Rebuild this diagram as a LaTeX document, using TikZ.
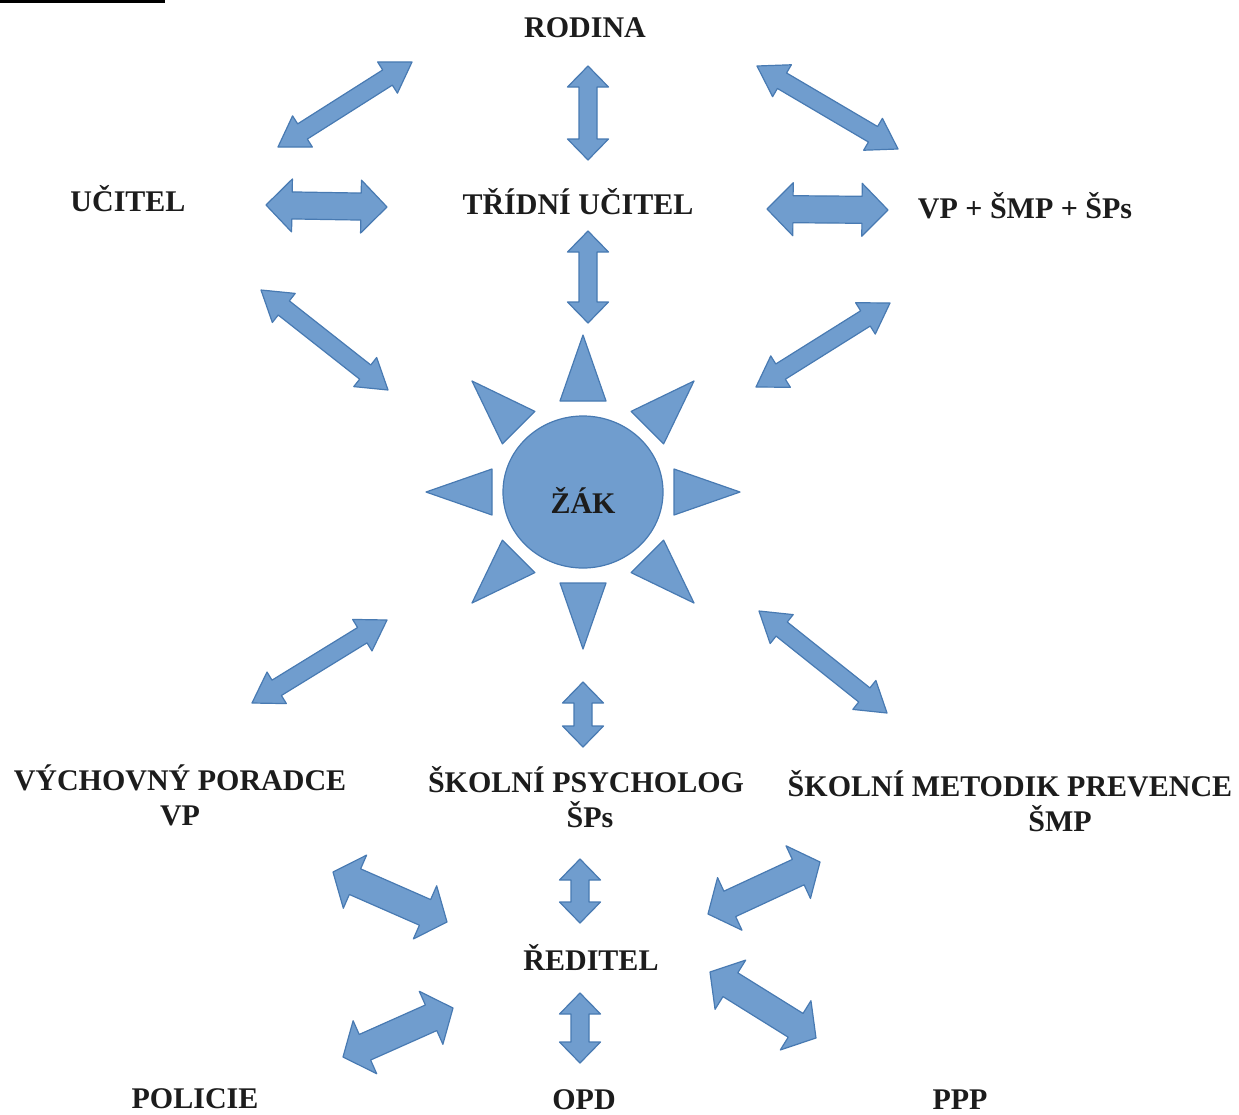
\documentclass[tikz,border=0pt]{standalone}
\usepackage{fontspec}
\setmainfont{Liberation Serif}
\usetikzlibrary{calc,shapes.geometric}

\definecolor{shapefill}{RGB}{112,157,206}
\definecolor{shapeline}{RGB}{72,122,178}
\definecolor{textgray}{RGB}{28,28,28}

\tikzset{
  blueshape/.style={fill=shapefill, draw=shapeline, line width=1.2pt, line join=round},
  lbl/.style={font=\fontsize{30}{34}\selectfont\bfseries, text=textgray, inner sep=0pt, anchor=base},
}

% fat double arrow: ends #1 #2, shaft half #3, head half #4, head length #5
\newcommand{\dblarrow}[5]{%
  \draw[blueshape] (#1)
    -- ($($(#1)!#5!(#2)$)!#4!90:(#2)$)
    -- ($($(#1)!#5!(#2)$)!#3!90:(#2)$)
    -- ($($(#2)!#5!(#1)$)!#3!90:(#2)$)
    -- ($($(#2)!#5!(#1)$)!#4!90:(#2)$)
    -- (#2)
    -- ($($(#2)!#5!(#1)$)!#4!-90:(#2)$)
    -- ($($(#2)!#5!(#1)$)!#3!-90:(#2)$)
    -- ($($(#1)!#5!(#2)$)!#3!-90:(#2)$)
    -- ($($(#1)!#5!(#2)$)!#4!-90:(#2)$)
    -- cycle;}
\newcommand{\thinarrow}[2]{\dblarrow{#1}{#2}{9pt}{18.5pt}{29pt}}
\newcommand{\vertarrow}[2]{\dblarrow{#1}{#2}{9pt}{20.5pt}{21pt}}
\newcommand{\widearrow}[2]{\dblarrow{#1}{#2}{13.5pt}{26.5pt}{26pt}}
\newcommand{\thickarrow}[2]{\dblarrow{#1}{#2}{14pt}{29pt}{24pt}}

\begin{document}
\begin{tikzpicture}[x=1pt,y=-1pt]
\useasboundingbox (0,0) rectangle (1239,1114);

% line at the top
\draw[line width=3pt] (0,1.5) -- (165,1.5);

% labels
\node[lbl] (rodina) at (585,37) {RODINA};
\node[lbl] (ucitel) at (128,211) {UČITEL};
\node[lbl] (tridni) at (578,214) {TŘÍDNÍ UČITEL};
\node[lbl] (vpsmp) at (1025,218) {VP + ŠMP + ŠPs};
\node[lbl] (vychovny) at (180,790) {VÝCHOVNÝ PORADCE};
\node[lbl] (vychovnyzk) at (180,825) {VP};
\node[lbl] (psycholog) at (586,792) {ŠKOLNÍ PSYCHOLOG};
\node[lbl] (psychologzk) at (590,827) {ŠPs};
\node[lbl] (metodik) at (1010,796) {ŠKOLNÍ METODIK PREVENCE};
\node[lbl] (metodikzk) at (1060,831) {ŠMP};
\node[lbl] (reditel) at (591,970) {ŘEDITEL};
\node[lbl] (policie) at (195,1108) {POLICIE};
\node[lbl] (opd) at (584,1109) {OPD};
\node[lbl] (ppp) at (960,1109) {PPP};

% zak with rays
\node[blueshape, ellipse, minimum width=160pt, minimum height=152pt] (zak) at (583,492) {};
\node[lbl] (zaktext) at (583,513) {ŽÁK};
\foreach \a in {0,45,...,315}{
  \begin{scope}[shift={(zak.center)}, rotate=\a]
    \draw[blueshape] (157,0) -- (91,23) -- (91,-23) -- cycle;
  \end{scope}
}

% arrow ends
\coordinate (r-u1) at (412,62);   \coordinate (r-u2) at (278,147);
\coordinate (r-t1) at (588,66);   \coordinate (r-t2) at (588,160);
\coordinate (r-v1) at (757,66);   \coordinate (r-v2) at (898,149);
\coordinate (u-t1) at (266,205);  \coordinate (u-t2) at (387,207);
\coordinate (t-v1) at (767,209);  \coordinate (t-v2) at (888,210);
\coordinate (u-z1) at (261,290);  \coordinate (u-z2) at (388,390);
\coordinate (t-z1) at (588,231);  \coordinate (t-z2) at (588,323);
\coordinate (v-z1) at (890,303);  \coordinate (v-z2) at (756,387);
\coordinate (z-p1) at (387,620);  \coordinate (z-p2) at (252,703);
\coordinate (z-s1) at (583,682);  \coordinate (z-s2) at (583,747);
\coordinate (z-m1) at (759,611);  \coordinate (z-m2) at (887,713);
\coordinate (p-r1) at (333,872);  \coordinate (p-r2) at (447,922);
\coordinate (s-r1) at (580,859);  \coordinate (s-r2) at (580,923);
\coordinate (m-r1) at (820,862);  \coordinate (m-r2) at (708,914);
\coordinate (o-r1) at (343,1057); \coordinate (o-r2) at (453,1008);
\coordinate (r-o1) at (580,993);  \coordinate (r-o2) at (580,1063);
\coordinate (r-p1) at (710,972);  \coordinate (r-p2) at (816,1038);

% arrows
\thinarrow{r-u1}{r-u2}
\vertarrow{r-t1}{r-t2}
\thinarrow{r-v1}{r-v2}
\widearrow{u-t1}{u-t2}
\widearrow{t-v1}{t-v2}
\thinarrow{u-z1}{u-z2}
\vertarrow{t-z1}{t-z2}
\thinarrow{v-z1}{v-z2}
\thinarrow{z-p1}{z-p2}
\vertarrow{z-s1}{z-s2}
\thinarrow{z-m1}{z-m2}
\thickarrow{p-r1}{p-r2}
\vertarrow{s-r1}{s-r2}
\thickarrow{m-r1}{m-r2}
\thickarrow{o-r1}{o-r2}
\vertarrow{r-o1}{r-o2}
\thickarrow{r-p1}{r-p2}
\end{tikzpicture}
\end{document}
